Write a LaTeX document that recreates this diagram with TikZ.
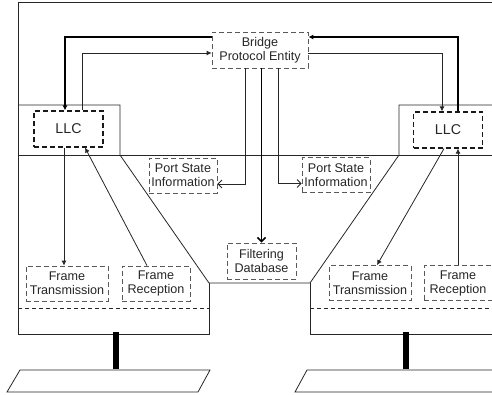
\documentclass[tikz,border=0pt]{standalone}
\usepackage{fontspec}
\setmainfont{Liberation Sans}
\usetikzlibrary{arrows.meta}

\tikzset{
  entity/.style={draw=black!65, dash pattern=on 5pt off 3pt, line width=0.8pt,
    align=center, inner sep=1pt, text=black!85,
    font=\fontsize{12.6}{14}\selectfont, minimum height=36pt},
  llcbox/.style={entity, draw=black!90, line width=1.2pt, minimum width=69pt,
    font=\fontsize{14.2}{16}\selectfont},
  wire/.style={line width=0.8pt, black!85},
  heavy/.style={line width=1.6pt, black},
  tip/.style={-{Latex[length=5pt,width=5pt]}},
  barb/.style={-{Straight Barb[length=4pt,width=8pt]}}
}

\begin{document}
\begin{tikzpicture}[x=1pt,y=-1pt]
	\useasboundingbox (0,0) rectangle (492,394);
	\clip (0,0) rectangle (492,394);

	% bridge outline
	\begin{scope}[wire]
		\draw (18,334) -- (18,2) -- (500,2);
		\draw (18,155) -- (500,155);
		\draw (18,105) -- (120,105) -- (120,155) -- (209,283) -- (310,283)
			-- (399,155) -- (399,105) -- (500,105);
		\draw (209,283) -- (209,334) -- (18,334);
		\draw (310,283) -- (310,334) -- (500,334);
		\draw[dash pattern=on 4pt off 3pt] (18,308) -- (209,308);
		\draw[dash pattern=on 4pt off 3pt] (310,308) -- (500,308);
	\end{scope}

	% stations and LAN segments
	\fill (113,332) rectangle (119,369);
	\fill (403,332) rectangle (409,369);
	\draw[wire] (20,370) -- (210,370) -- (198,392) -- (7,392) -- cycle;
	\draw[wire] (307,370) -- (510,370) -- (498,392) -- (295,392) -- cycle;

	\begin{scope}[every node/.style={entity}]
		\node[minimum width=96pt] (bpe) at (260,50) {Bridge\\Protocol Entity};
		\node[llcbox] (llcL) at (68.5,129) {LLC};
		\node[llcbox] (llcR) at (448,130) {LLC};
		\node[minimum width=68pt, minimum height=35pt] (psiL) at (183,175.5) {Port State\\Information};
		\node[minimum width=68pt, minimum height=35pt] (psiR) at (336,175) {Port State\\Information};
		\node[minimum width=69pt] (fdb) at (261.5,261) {Filtering\\Database};
		\node[minimum width=82pt, minimum height=35pt] (ftL) at (67,283.5) {Frame\\Transmission};
		\node[minimum width=68pt, minimum height=35pt] (frL) at (156,283.5) {Frame\\Reception};
		\node[minimum width=82pt, minimum height=35pt] (ftR) at (370,283) {Frame\\Transmission};
		\node[minimum width=68pt, minimum height=35pt] (frR) at (458,283) {Frame\\Reception};
	\end{scope}

	% protocol entity <-> LLC
	\draw[heavy,tip] ([yshift=13pt]bpe.west) -| ([xshift=-3.5pt]llcL.north);
	\draw[wire,tip] ([xshift=13.5pt]llcL.north) |- ([yshift=-3pt]bpe.west);
	\draw[wire,tip] ([yshift=-3pt]bpe.east) -| ([xshift=-6pt]llcR.north);
	\draw[heavy,tip] ([xshift=10pt]llcR.north) |- ([yshift=13pt]bpe.east);

	% protocol entity -> port state / filtering
	\draw[wire,barb] ([xshift=-15pt]bpe.south) |- ([yshift=-8.5pt]psiL.east);
	\draw[wire,barb] ([xshift=18pt]bpe.south) |- ([yshift=-8.5pt]psiR.west);
	\draw[heavy,barb] (fdb.north |- bpe.south) -- (fdb.north);

	% LLC <-> frame boxes
	\draw[wire,tip] ([xshift=-4.5pt]llcL.south) -- ([xshift=-3pt]ftL.north);
	\draw[wire,tip] ([xshift=-9pt]frL.north) -- ([xshift=16.5pt]llcL.south);
	\draw[wire,tip] ([xshift=-4pt]llcR.south) -- ([xshift=7pt]ftR.north);
	\draw[wire,tip] (frR.north) -- (frR.north |- llcR.south);
\end{tikzpicture}
\end{document}
